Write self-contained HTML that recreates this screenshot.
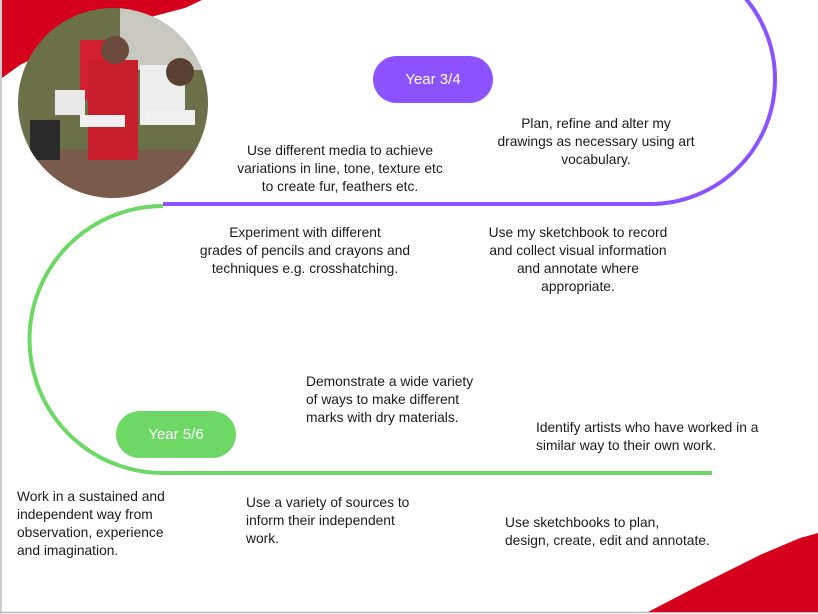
<!DOCTYPE html>
<html><head><style>
html,body{margin:0;padding:0;}
body{width:818px;height:614px;position:relative;overflow:hidden;background:#fff;font-family:"Liberation Sans",sans-serif;color:#1a1a1a;}
.t{position:absolute;font-size:13.8px;line-height:18px;}
.c{text-align:center;}
.pill{position:absolute;border-radius:24px;color:#fff;font-size:15px;text-align:center;line-height:47px;height:47px;width:120px;}
</style></head><body>
<svg width="818" height="614" style="position:absolute;left:0;top:0">
  <line x1="1" y1="0" x2="1" y2="614" stroke="#bbb" stroke-width="1.5"/>
  <line x1="0" y1="612.5" x2="818" y2="612.5" stroke="#bbb" stroke-width="1.5"/>
  <path d="M2,0 L202,0 L185,8 L120,25 L60,45 L20,65 L2,78 Z" fill="#d4001c"/>
  <path d="M648,612 L700,585 L740,565 L760,555 L800,538 L818,533 L818,612 Z" fill="#d4001c"/>
  <path d="M163,204 L650,204 A125,125 0 0 0 650,-46" fill="none" stroke="#8c52ff" stroke-width="4"/>
  <path d="M163,206 A133,133 0 0 0 163,473 L712,473" fill="none" stroke="#6dd865" stroke-width="4"/>
  <defs><clipPath id="cc"><circle cx="113" cy="103" r="95"/></clipPath></defs>
  <g clip-path="url(#cc)">
    <rect x="0" y="0" width="230" height="220" fill="#6b7048"/>
    <rect x="120" y="0" width="110" height="70" fill="#c8c8c0"/>
    <rect x="0" y="150" width="230" height="70" fill="#7a5a4a"/>
    <rect x="80" y="40" width="35" height="60" fill="#d22030"/>
    <rect x="88" y="60" width="50" height="100" fill="#c81e2c"/>
    <rect x="140" y="65" width="45" height="60" fill="#eeeeee"/>
    <rect x="55" y="90" width="30" height="25" fill="#e8e8e8"/>
    <rect x="80" y="115" width="45" height="12" fill="#f0f0f0"/>
    <rect x="145" y="110" width="50" height="15" fill="#f0f0f0"/>
    <rect x="30" y="120" width="30" height="40" fill="#2a2a2a"/>
    <circle cx="115" cy="50" r="14" fill="#6a4a3a"/>
    <circle cx="180" cy="72" r="14" fill="#5a4030"/>
  </g>
</svg>
<div class="pill" style="left:373px;top:56px;background:#8c52ff;">Year 3/4</div>
<div class="pill" style="left:116px;top:411px;background:#6dd865;">Year 5/6</div>

<div class="t c" style="left:220px;top:142px;width:240px;">Use different media to achieve<br>variations in line, tone, texture etc<br>to create fur, feathers etc.</div>
<div class="t c" style="left:481px;top:115px;width:230px;">Plan, refine and alter my<br>drawings as necessary using art<br>vocabulary.</div>
<div class="t c" style="left:185px;top:224px;width:240px;">Experiment with different<br>grades of pencils and crayons and<br>techniques e.g. crosshatching.</div>
<div class="t c" style="left:463px;top:224px;width:230px;">Use my sketchbook to record<br>and collect visual information<br>and annotate where<br>appropriate.</div>
<div class="t" style="left:306px;top:373px;width:210px;">Demonstrate a wide variety<br>of ways to make different<br>marks with dry materials.</div>
<div class="t" style="left:536px;top:419px;width:260px;">Identify artists who have worked in a<br>similar way to their own work.</div>
<div class="t" style="left:17px;top:488px;width:190px;">Work in a sustained and<br>independent way from<br>observation, experience<br>and imagination.</div>
<div class="t" style="left:246px;top:494px;width:200px;">Use a variety of sources to<br>inform their independent<br>work.</div>
<div class="t" style="left:505px;top:514px;width:240px;">Use sketchbooks to plan,<br>design, create, edit and annotate.</div>
</body></html>
